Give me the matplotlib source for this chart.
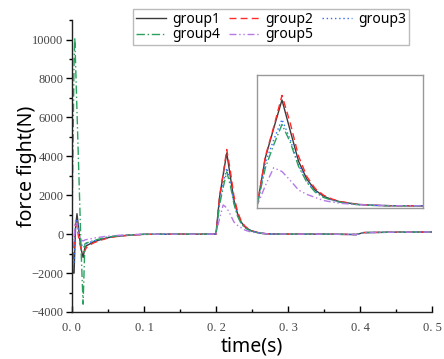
import matplotlib
matplotlib.use("Agg")
import matplotlib.pyplot as plt
from matplotlib.ticker import MultipleLocator, FixedLocator

# ---- data ----
time = [0, 0.001, 0.003, 0.004, 0.005, 0.007, 0.009, 0.011, 0.013, 0.0155,
        0.018, 0.02, 0.025, 0.03, 0.04, 0.05, 0.06, 0.08, 0.1, 0.15,
        0.2, 0.205, 0.21, 0.215, 0.22, 0.225, 0.23, 0.235, 0.24, 0.245,
        0.25, 0.26, 0.27, 0.28,
        0.3, 0.35, 0.395, 0.405, 0.45, 0.5]

group1 = [0, -2000, -2000, -800, 300, 1050, 400, -300, -800, -1200,
          -700, -600, -500, -400, -280, -180, -120, -50, -10, 0,
          0, 1900, 3050, 4170, 2950, 1750, 1050, 620, 380, 250,
          160, 60, 20, 5,
          0, 0, -20, 80, 100, 110]
group2 = [0, -1500, -600, 200, 550, 400, -100, -500, -800, -950,
          -850, -700, -560, -450, -310, -200, -130, -55, -12, 0,
          0, 1950, 3100, 4350, 3250, 1950, 1150, 680, 420, 270,
          170, 65, 22, 6,
          0, 0, -20, 80, 100, 110]
group3 = [0, -1800, -1500, -600, 600, 800, 300, -200, -500, -700,
          -600, -500, -420, -350, -250, -160, -100, -45, -10, 0,
          0, 1700, 2600, 3400, 2600, 1600, 950, 560, 350, 230,
          150, 55, 18, 5,
          0, 0, -20, 80, 100, 110]
group4 = [0, 3000, 9000, 10100, 8850, 6350, 3850, 1380, -1100, -3600,
          -500, -450, -400, -330, -230, -150, -100, -40, -8, 0,
          0, 1500, 2400, 3200, 2500, 1550, 920, 540, 330, 220,
          140, 50, 15, 4,
          0, 0, -20, 80, 100, 110]
group5 = [0, -500, -400, 200, 700, 500, 100, -200, -300, -350,
          -300, -280, -250, -200, -150, -100, -70, -30, -5, 0,
          0, 800, 1500, 1350, 1000, 620, 450, 330, 210, 150,
          100, 50, 20, 8,
          0, 0, -20, 80, 100, 110]

labels = ["group1", "group2", "group3", "group4", "group5"]
xticks = [0.0, 0.1, 0.2, 0.3, 0.4, 0.5]
yticks = [-4000, -2000, 0, 2000, 4000, 6000, 8000, 10000]

series = [group1, group2, group3, group4, group5]
colors = ["#3a3a3a", "#ff2a2a", "#2f6dff", "#2aa05e", "#b57ae6"]
styles = ["-", (0, (5, 3)), (0, (1, 2)), (0, (6, 2, 1, 2)), (0, (5, 2, 1, 2, 1, 2))]

fig = plt.figure(figsize=(4.44, 3.59), dpi=100)
ax = fig.add_axes([0.162, 0.131, 0.811, 0.813])

lines = []
for y, c, ls, lab in zip(series, colors, styles, labels):
    ln, = ax.plot(time, y, color=c, linestyle=ls, linewidth=1.0, label=lab)
    lines.append(ln)

ax.set_xlim(0, 0.5)
ax.set_ylim(-4000, 11000)
for s in ["top", "right"]:
    ax.spines[s].set_visible(False)
for s in ["left", "bottom"]:
    ax.spines[s].set_linewidth(1.0)
    ax.spines[s].set_color("#222222")

ax.xaxis.set_major_locator(FixedLocator(xticks))
ax.xaxis.set_minor_locator(MultipleLocator(0.05))
ax.yaxis.set_major_locator(FixedLocator(yticks))
ax.yaxis.set_minor_locator(MultipleLocator(1000))
ax.set_xticklabels([f"{v:.1f}".replace(".", ". ") for v in xticks])
ax.set_yticklabels([f"\u2212{abs(v)}" if v < 0 else f"{v}" for v in yticks])

ax.tick_params(axis="x", which="major", direction="in", length=4, width=1, pad=7)
ax.tick_params(axis="x", which="minor", direction="in", length=2.5, width=1)
ax.tick_params(axis="y", which="major", direction="out", length=4, width=1, pad=2)
ax.tick_params(axis="y", which="minor", direction="out", length=2.5, width=1)
for lab in ax.get_xticklabels() + ax.get_yticklabels():
    lab.set_fontfamily("Liberation Serif")
    lab.set_fontsize(9)
    lab.set_color("#444444")

ax.set_xlabel("time(s)", fontsize=14, fontfamily="Noto Sans")
ax.set_ylabel("force fight(N)", fontsize=14, fontfamily="Noto Sans", labelpad=-4)
ax.xaxis.set_label_coords(0.5, -0.085)

# legend in row-major order: columns are [g1, g4], [g2, g5], [g3]
order = [0, 3, 1, 4, 2]
leg = fig.legend(handles=[lines[i] for i in order], labels=[labels[i] for i in order],
                 ncol=3, loc="upper left",
                 bbox_to_anchor=(133 / 444, 1 - 9 / 359), frameon=True, fancybox=False,
                 prop={"family": "Noto Sans", "size": 10}, handlelength=2.2,
                 handletextpad=0.45, columnspacing=0.6, borderpad=0.2,
                 labelspacing=0.05, borderaxespad=0)
leg.get_frame().set_edgecolor("#aaaaaa")
leg.get_frame().set_linewidth(1.0)

# inset
axin = fig.add_axes([0.579, 0.421, 0.374, 0.370])
for y, c, ls in zip(series, colors, styles):
    axin.plot(time, y, color=c, linestyle=ls, linewidth=1.0)
axin.set_xlim(0.2, 0.3)
axin.set_ylim(-80, 5150)
axin.set_xticks([])
axin.set_yticks([])
for s in axin.spines.values():
    s.set_color("#999999")
    s.set_linewidth(1.0)

fig.savefig("out.png", dpi=100)
